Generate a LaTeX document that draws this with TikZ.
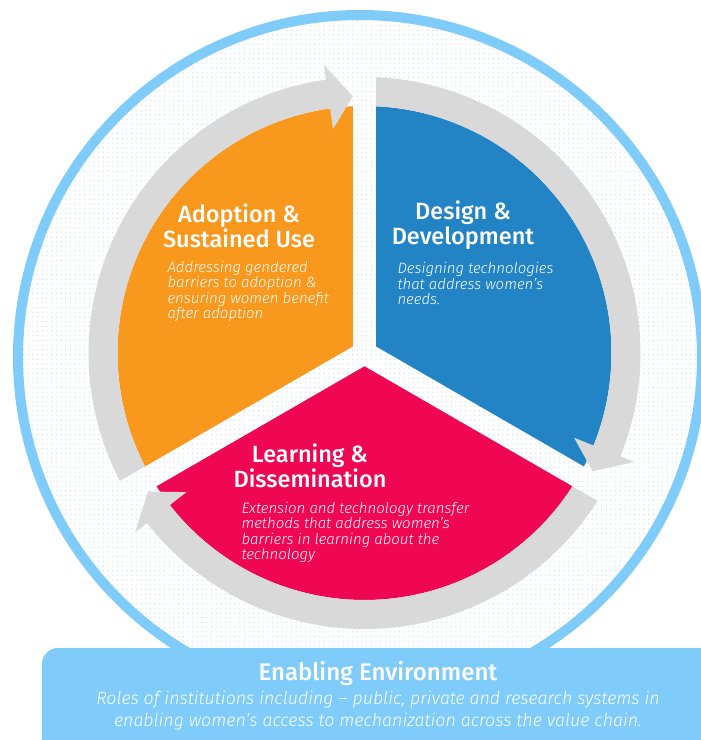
\documentclass[tikz,border=0pt]{standalone}
\usepackage{fontspec}
\setmainfont{Fira Sans}[BoldFont={Fira Sans Medium},ItalicFont={Fira Sans Light Italic}]
\usetikzlibrary{patterns.meta}

\definecolor{adoptorange}{RGB}{248,152,29}
\definecolor{designblue}{RGB}{34,132,197}
\definecolor{learnpink}{RGB}{239,7,84}
\definecolor{arrowgray}{RGB}{217,217,217}
\definecolor{envblue}{RGB}{127,204,250}
\definecolor{dotblue}{RGB}{200,225,245}

% one slice of the cycle: colour, from angle, to angle
\newcommand{\piesector}[3]{%
  \fill[#1] ({(#2+#3)/2}:13.3) -- ({#2+2.67}:247)
    arc[start angle={#2+2.67}, end angle={#3-2.67}, radius=247] -- cycle;}
% grey band round a slice, running clockwise from #1 down to #2
\newcommand{\cyclearrow}[2]{%
  \fill[arrowgray] ({#1-2.39}:276)
    arc[start angle={#1-2.39}, end angle={#2+8}, radius=276]
    -- ({#2+8}:291) -- ({#2+2.6}:257) -- ({#2+8}:226) -- ({#2+8}:247)
    arc[start angle={#2+8}, end angle={#1-2.67}, radius=247] -- cycle;}

\begin{document}
\begin{tikzpicture}[x=1pt,y=1pt,
    stagetitle/.style={text=white,font=\fontsize{23.5}{25}\selectfont\bfseries,align=center},
    stagetext/.style={text=white,font=\fontsize{15}{15.5}\selectfont\itshape,align=left,anchor=west}]
  \useasboundingbox (-364.5,-387) rectangle (336.5,353);
  \clip (-364.5,-387) rectangle (336.5,353);

  \fill[white] (-4.5,-4) circle[radius=342];
  \fill[pattern={Dots[distance=4.7pt,radius=0.7pt]},pattern color=dotblue] (-4.5,-4) circle[radius=338];
  \draw[envblue,line width=10pt] (-4.5,-4) circle[radius=342];

  \piesector{adoptorange}{90}{210}
  \piesector{designblue}{-30}{90}
  \piesector{learnpink}{210}{330}

  \cyclearrow{210}{90}
  \cyclearrow{90}{-30}
  \cyclearrow{330}{210}

  \node[stagetitle] (adopt) at (-125.5,127.5) {Adoption \&\\Sustained Use};
  \node[stagetext] (adopttext) at (-200.5,61.5) {Addressing gendered\\barriers to adoption \&\\ensuring women benefit\\after adoption};
  \node[stagetitle] (design) at (98.5,127.5) {Design \&\\Development};
  \node[stagetext] (designtext) at (29.5,69.5) {Designing technologies\\that address women's\\needs.};
  \node[stagetitle] (learn) at (-54.5,-112.5) {Learning \&\\Dissemination};
  \node[stagetext] (learntext) at (-126.5,-179.5) {Extension and technology transfer\\methods that address women's\\barriers in learning about the\\technology};

  \fill[envblue,rounded corners=16pt] (-322.5,-295) rectangle (360,-420);
  \node[text=white,font=\fontsize{24}{25}\selectfont\bfseries] (env) at (13.5,-321) {Enabling Environment};
  \node[text=white,font=\fontsize{17.8}{21.5}\selectfont\itshape,align=center] (envtext) at (13.5,-357.5)
    {Roles of institutions including -- public, private and research systems in\\enabling women's access to mechanization across the value chain.};
\end{tikzpicture}
\end{document}
